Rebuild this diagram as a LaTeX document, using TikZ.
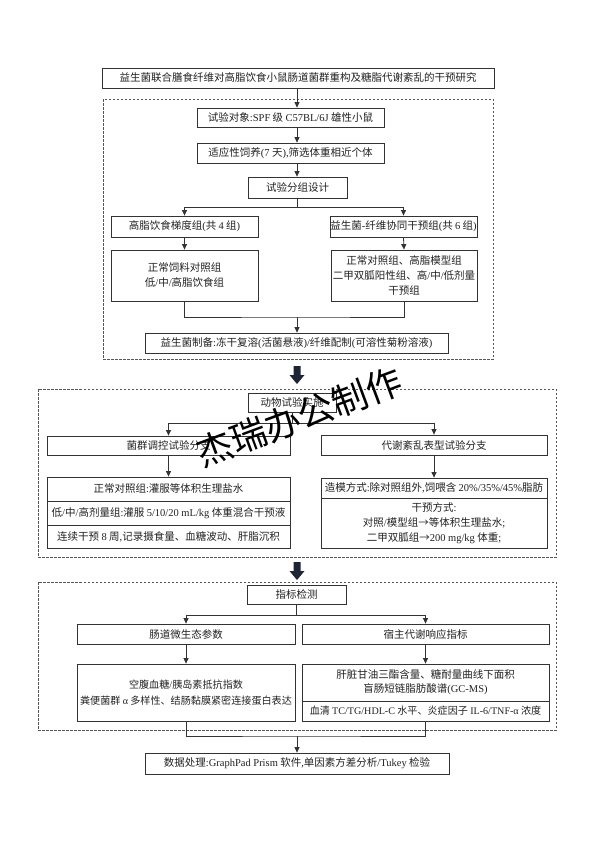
\documentclass[tikz,border=0pt]{standalone}
\usepackage{fontspec}
\setmainfont{Liberation Serif}
\newfontfamily\cjk{Noto Sans CJK SC}
\newfontfamily\lat{Liberation Serif}
\usetikzlibrary{arrows.meta}
\newcommand\Lx[1]{{\lat #1}}
\definecolor{txt}{HTML}{222222}
\definecolor{brd}{HTML}{333333}
\definecolor{dsh}{HTML}{555555}
\definecolor{navy}{HTML}{1C2536}
\tikzset{
  box/.style={draw=brd, line width=0.8pt, inner sep=0pt, text=txt, align=center,
    font=\cjk\fontsize{10.5}{15}\selectfont},
  tightbox/.style={box, font=\cjk\fontsize{10.1}{16}\selectfont},
  dashbox/.style={draw=dsh, line width=0.7pt, dash pattern=on 2.5pt off 1.5pt},
  link/.style={draw=brd, line width=0.8pt},
  arr/.style={link, -{Triangle[length=5.5pt,width=5pt]}},
  bigarr/.style={fill=navy},
}
\begin{document}
\begin{tikzpicture}[x=1pt,y=-1pt]
\useasboundingbox[fill=white] (0,0) rectangle (594,841);

% ---------------- section 1 ----------------
\draw[dashbox] (103,99) rectangle (493,359);
\coordinate (mx) at (297,0);

\node[box, minimum width=392pt, minimum height=20pt] (title) at (298,78)
  {益生菌联合膳食纤维对高脂饮食小鼠肠道菌群重构及糖脂代谢紊乱的干预研究};
\node[box, minimum width=187pt, minimum height=19pt] (s1) at (290.5,117.5)
  {试验对象\Lx{:SPF} 级 \Lx{C57BL/6J} 雄性小鼠};
\node[box, minimum width=187pt, minimum height=20pt] (s2) at (290.5,153)
  {适应性饲养\Lx{(7 }天\Lx{),}筛选体重相近个体};
\node[box, minimum width=99pt, minimum height=21pt] (s3) at (297.5,187.5)
  {试验分组设计};
\node[box, minimum width=147pt, minimum height=21pt] (L1) at (184.5,226.5)
  {高脂饮食梯度组\Lx{(}共 \Lx{4} 组\Lx{)}};
\node[box, minimum width=147pt, minimum height=21pt] (R1) at (403.5,226.5)
  {益生菌\Lx{-}纤维协同干预组\Lx{(}共 \Lx{6} 组\Lx{)}};
\node[box, minimum width=147pt, minimum height=51pt] (L2) at (184.5,275.5)
  {正常饲料对照组\\低\Lx{/}中\Lx{/}高脂饮食组};
\node[box, minimum width=146pt, minimum height=51pt] (R2) at (404,275.5)
  {正常对照组、高脂模型组\\二甲双胍阳性组、高\Lx{/}中\Lx{/}低剂量\\干预组};
\node[box, minimum width=303pt, minimum height=20pt] (s4) at (296.5,343)
  {益生菌制备\Lx{:}冻干复溶\Lx{(}活菌悬液\Lx{)/}纤维配制\Lx{(}可溶性菊粉溶液\Lx{)}};

\draw[arr] (title.south -| mx) -- (s1.north -| mx);
\draw[arr] (s1.south -| mx) -- (s2.north -| mx);
\draw[arr] (s2.south -| mx) -- (s3.north -| mx);
\coordinate (br1) at (297.5,207);
\draw[link] (s3.south) -- (br1);
\draw[arr] (br1) -| (L1.north);
\draw[arr] (br1) -| (R1.north);
\draw[arr] (L1.south) -- (L2.north);
\draw[arr] (R1.south) -- (R2.north);
\coordinate (m1) at (297,317);
\draw[link] (L2.south) |- (m1) -| (R2.south);
\draw[arr] (m1) -- (s4.north -| m1);

% big arrow 1
\coordinate (ba1) at (297,366);
\begin{scope}[shift={(ba1)}]
  \fill[bigarr] (-3.5,0) -- (3.5,0) -- (3.5,9) -- (7.5,9) -- (0,18) -- (-7.5,9) -- (-3.5,9) -- cycle;
\end{scope}

% ---------------- section 2 ----------------
\draw[dashbox] (38,389) rectangle (556,557);
\node[box, minimum width=88pt, minimum height=19pt] (a0) at (292,402.5)
  {动物试验实施};
\node[box, minimum width=243pt, minimum height=19pt] (aL1) at (168.5,445.5)
  {菌群调控试验分支};
\node[box, minimum width=226pt, minimum height=20pt] (aR1) at (434,445)
  {代谢紊乱表型试验分支};
\node[box, minimum width=243pt, minimum height=24pt] (aL2a) at (168.5,489)
  {正常对照组\Lx{:}灌服等体积生理盐水};
\node[box, minimum width=243pt, minimum height=24pt] (aL2b) at (168.5,513)
  {低\Lx{/}中\Lx{/}高剂量组\Lx{:}灌服 \Lx{5/10/20 mL/kg} 体重混合干预液};
\node[box, minimum width=243pt, minimum height=23pt] (aL2c) at (168.5,536.5)
  {连续干预 \Lx{8} 周\Lx{,}记录摄食量、血糖波动、肝脂沉积};
\node[box, minimum width=226pt, minimum height=20pt] (aR2a) at (434,488)
  {造模方式\Lx{:}除对照组外\Lx{,}饲喂含 \Lx{20\%/35\%/45\%}脂肪};
\node[box, minimum width=226pt, minimum height=50pt] (aR2b) at (434,523)
  {干预方式\Lx{:}\\对照\Lx{/}模型组→等体积生理盐水\Lx{;}\\二甲双胍组→\Lx{200 mg/kg} 体重\Lx{;}};

\coordinate (br2) at (292,423);
\draw[link] (a0.south) -- (br2);
\draw[arr] (br2) -| (aL1.north);
\draw[arr] (br2) -| (aR1.north);
\draw[arr] (aL1.south) -- (aL2a.north);
\draw[arr] (aR1.south) -- (aR2a.north);

% big arrow 2
\coordinate (ba2) at (297,562);
\begin{scope}[shift={(ba2)}]
  \fill[bigarr] (-3.5,0) -- (3.5,0) -- (3.5,9) -- (7.5,9) -- (0,18) -- (-7.5,9) -- (-3.5,9) -- cycle;
\end{scope}

% ---------------- section 3 ----------------
\draw[dashbox] (38,582) rectangle (556,730);
\node[box, minimum width=99pt, minimum height=19pt] (b0) at (296.5,594.5)
  {指标检测};
\node[box, minimum width=218pt, minimum height=20pt] (bL1) at (186,634)
  {肠道微生态参数};
\node[box, minimum width=247pt, minimum height=20pt] (bR1) at (425.5,634)
  {宿主代谢响应指标};
\node[tightbox, minimum width=218pt, minimum height=57pt] (bL2) at (186,692.5)
  {空腹血糖\Lx{/}胰岛素抵抗指数\\粪便菌群 \Lx{α} 多样性、结肠黏膜紧密连接蛋白表达};
\node[box, minimum width=247pt, minimum height=37pt, font=\cjk\fontsize{10.5}{14}\selectfont] (bR2a) at (425.5,682.5)
  {肝脏甘油三酯含量、糖耐量曲线下面积\\盲肠短链脂肪酸谱\Lx{(GC-MS)}};
\node[tightbox, minimum width=247pt, minimum height=20pt] (bR2b) at (425.5,711)
  {血清 \Lx{TC/TG/HDL-C} 水平、炎症因子 \Lx{IL-6/TNF-α} 浓度};
\node[box, minimum width=304pt, minimum height=21pt] (fin) at (297,763.5)
  {数据处理\Lx{:GraphPad Prism} 软件\Lx{,}单因素方差分析\Lx{/Tukey} 检验};

\coordinate (br3) at (296.5,615);
\draw[link] (b0.south) -- (br3);
\draw[arr] (br3) -| (bL1.north);
\draw[arr] (br3) -| (bR1.north);
\draw[arr] (bL1.south) -- (bL2.north);
\draw[arr] (bR1.south) -- (bR2a.north);
\coordinate (m3) at (297,736);
\draw[link] (bL2.south) |- (m3) -| (bR2b.south);
\draw[arr] (m3) -- (fin.north -| m3);

% watermark
\node[font=\cjk\fontsize{36}{36}\selectfont, text=black, rotate=20.4, inner sep=0pt] (wm) at (299,417)
  {杰瑞办公制作};
\end{tikzpicture}
\end{document}
